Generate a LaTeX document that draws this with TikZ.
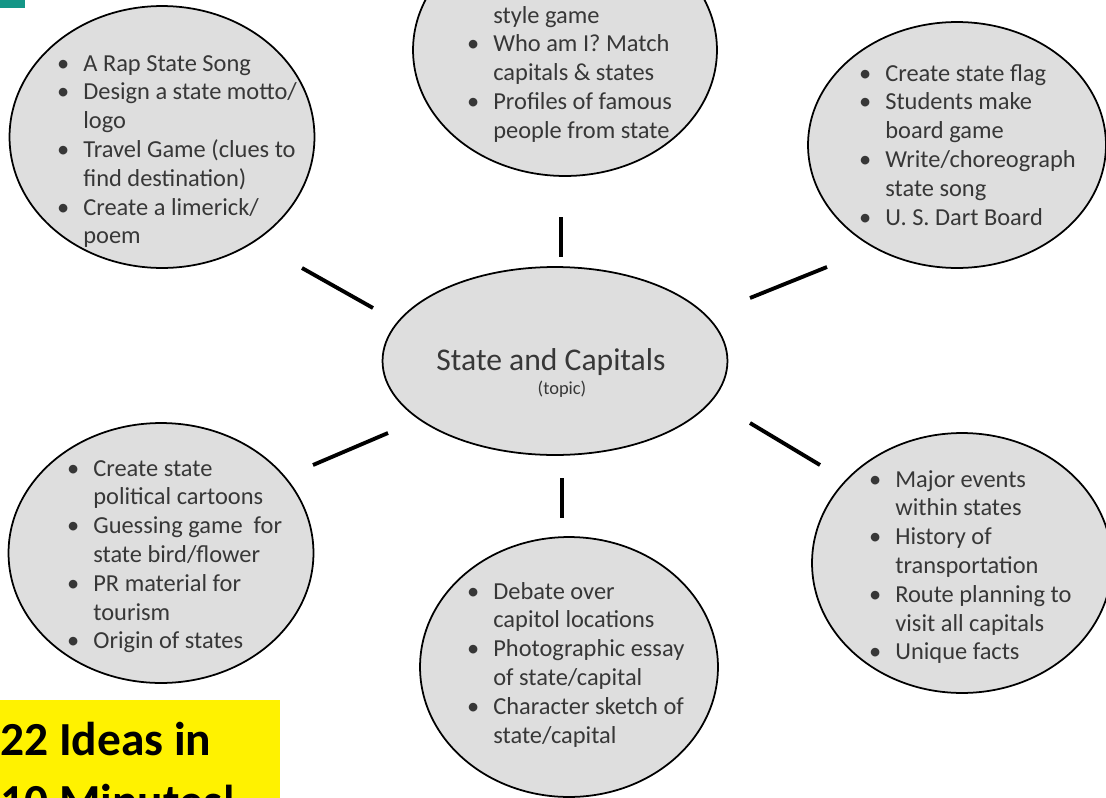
\documentclass[tikz,border=0pt]{standalone}
\usepackage{fontspec}
\setmainfont{Carlito}
\usetikzlibrary{shapes.geometric}

\definecolor{ovalgray}{RGB}{222,222,222}
\definecolor{inkgray}{RGB}{55,55,55}
\definecolor{cornerteal}{RGB}{20,150,135}

\newcommand{\tbul}{\leavevmode\llap{\textbullet\hspace{0.28cm}}}
\newcommand{\linesof}[1]{\parbox[t]{7cm}{\raggedright #1}}

\tikzstyle{idea} = [ellipse, draw=black, line width=1pt, fill=ovalgray,
inner sep=0pt]
\tikzstyle{topic} = [ellipse, draw=black, line width=1pt, fill=ovalgray,
inner sep=0pt, minimum width=6.9cm, minimum height=3.76cm]
\tikzstyle{ideatext} = [anchor=base west, inner sep=0pt,
text=inkgray, font=\fontsize{13.9}{16.4}\selectfont]
\tikzstyle{topictext} = [anchor=base, inner sep=0pt, text=inkgray,
font=\fontsize{18}{21}\selectfont]
\tikzstyle{topicnote} = [anchor=base, inner sep=0pt, text=inkgray,
font=\fontsize{10.5}{12}\selectfont]
\tikzstyle{spoke} = [line width=2.2pt, black]
\tikzstyle{banner} = [rectangle, fill=yellow, anchor=north west,
minimum width=5.8cm, minimum height=2.6cm, inner sep=0pt]
\tikzstyle{bannertext} = [anchor=base west, inner sep=0pt,
text=black, font=\bfseries\fontsize{27}{35.3}\selectfont]

\begin{document}
\begin{tikzpicture}[x=0.02cm, y=-0.02cm]
    \useasboundingbox (0,0) rectangle (1106,798);
    \clip (0,0) rectangle (1106,798);
    \fill [white] (0,0) rectangle (1106,798);
    \fill [cornerteal] (0,0) rectangle (25,8);
    % Topic in the middle
    \node (C) [topic] at (555,361) {};
    \node (Ctext) [topictext] at (551,370) {State and Capitals};
    \node (Cnote) [topicnote] at (562,394) {(topic)};
    % Idea ellipses
    \node (TL) [idea, minimum width=6.1cm, minimum height=5.24cm] at (162,137) {};
    \node (TC) [idea, minimum width=6.08cm, minimum height=5.04cm] at (565,50) {};
    \node (TR) [idea, minimum width=5.96cm, minimum height=4.92cm] at (957,145) {};
    \node (BL) [idea, minimum width=6.1cm, minimum height=5.2cm] at (161,553) {};
    \node (BC) [idea, minimum width=5.96cm, minimum height=5.2cm] at (569,667) {};
    \node (BR) [idea, minimum width=6cm, minimum height=5.2cm] at (962,563) {};
    % Idea lists
    \node (TLtext) [ideatext] at (83,71) {\linesof{\tbul A Rap State Song\\ \tbul Design a state motto/\\ logo\\
        \tbul Travel Game (clues to\\ find destination)\\ \tbul Create a limerick/\\ poem}};
    \node (TCtext) [ideatext] at (493,23) {\linesof{style game\\ \tbul Who am I? Match\\ capitals \& states\\
        \tbul Profiles of famous\\ people from state}};
    \node (TRtext) [ideatext] at (885,81) {\linesof{\tbul Create state flag\\ \tbul Students make\\ board game\\
        \tbul Write/choreograph\\ state song\\ \tbul U. S. Dart Board}};
    \node (BLtext) [ideatext] at (93,476) {\linesof{\tbul Create state\\ political cartoons\\ \tbul Guessing game~ for\\
        state bird/flower\\ \tbul PR material for\\ tourism\\ \tbul Origin of states}};
    \node (BCtext) [ideatext] at (493,599) {\linesof{\tbul Debate over\\ capitol locations\\ \tbul Photographic essay\\
        of state/capital\\ \tbul Character sketch of\\ state/capital}};
    \node (BRtext) [ideatext] at (895,487) {\linesof{\tbul Major events\\ within states\\ \tbul History of\\
        transportation\\ \tbul Route planning to\\ visit all capitals\\ \tbul Unique facts}};
    % Spokes
    \coordinate (tlA) at (302,268);
    \coordinate (tlB) at (373,308);
    \coordinate (tcA) at (561,217);
    \coordinate (tcB) at (561,257);
    \coordinate (trA) at (750,298);
    \coordinate (trB) at (827,267);
    \coordinate (blA) at (313,465);
    \coordinate (blB) at (388,433);
    \coordinate (bcA) at (562,478);
    \coordinate (bcB) at (562,518);
    \coordinate (brA) at (750,423);
    \coordinate (brB) at (820,465);
    \draw [spoke] (tlA) -- (tlB);
    \draw [spoke] (tcA) -- (tcB);
    \draw [spoke] (trA) -- (trB);
    \draw [spoke] (blA) -- (blB);
    \draw [spoke] (bcA) -- (bcB);
    \draw [spoke] (brA) -- (brB);
    % Yellow badge
    \node (badge) [banner] at (-10,700) {};
    \node (badgetext) [bannertext] at (0,755) {\linesof{22 Ideas in\\10 Minutes!}};
\end{tikzpicture}
\end{document}
